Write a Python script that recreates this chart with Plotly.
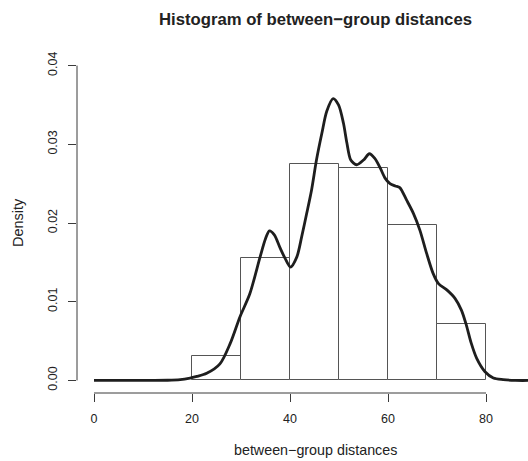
import plotly.graph_objects as go

# Histogram (density scale), bins of width 10
bin_left = [20, 30, 40, 50, 60, 70]
bin_width = 10
bin_density = [0.0031, 0.0155, 0.0275, 0.0270, 0.0198, 0.0072]

# Kernel density estimate
kde_x = [0, 5, 10, 15, 17.6, 19.6, 21, 23.0, 25.7, 27.8, 29.8, 31.8, 33.9, 35.0, 35.8,
         36.8, 38.0, 39.0, 40.1, 41.4, 42.4, 43.4, 44.4, 45.4, 46.5, 47.5, 48.8, 49.9,
         50.9, 51.6, 52.4, 53.6, 55.0, 56.2, 57.3, 58.4, 59.4, 60.4, 61.5, 62.4, 63.8,
         65.2, 66.5, 67.9, 69.2, 70.3, 72.0, 73.7, 75.0, 76.0, 77.0, 78.1, 79.8, 81.5,
         83.5, 86, 90]
kde_y = [0, 0, 0, 0.00002, 0.0001, 0.0003, 0.0005, 0.0009, 0.0021, 0.0047, 0.0081, 0.0110,
         0.0157, 0.0180, 0.0190, 0.0185, 0.0168, 0.0155, 0.0144, 0.0157, 0.0183, 0.0212,
         0.0242, 0.0280, 0.0314, 0.0342, 0.0358, 0.0350, 0.0327, 0.0302, 0.0280, 0.0274,
         0.0280, 0.0288, 0.0282, 0.0270, 0.0257, 0.0250, 0.0247, 0.0245, 0.0229, 0.0212,
         0.0191, 0.0161, 0.0136, 0.0123, 0.0115, 0.0104, 0.0089, 0.0070, 0.0047, 0.0028,
         0.0011, 0.0003, 0.0001, 0, 0]

x_ticks = [0, 20, 40, 60, 80]
y_ticks = [0.00, 0.01, 0.02, 0.03, 0.04]

title_text = "Histogram of between\u2212group distances"
x_label = "between\u2212group distances"
y_label = "Density"

FONT = "Liberation Sans, Arial, sans-serif"
AXIS_COLOR = "#3a3a3a"
TEXT_COLOR = "#222222"

fig = go.Figure()
fig.add_trace(go.Bar(
    x=[b + bin_width / 2 for b in bin_left],
    y=bin_density,
    width=bin_width,
    marker=dict(color="white", line=dict(color="#555555", width=1)),
    hoverinfo="skip",
))
fig.add_trace(go.Scatter(
    x=kde_x, y=kde_y, mode="lines",
    line=dict(color="#1e1e1e", width=2.8, shape="spline", smoothing=0.8),
    hoverinfo="skip",
))

# R-style axis lines spanning only the tick range
fig.add_shape(type="line", xref="x", yref="paper", x0=x_ticks[0], x1=x_ticks[-1], y0=0, y1=0,
              line=dict(color=AXIS_COLOR, width=1))
fig.add_shape(type="line", xref="paper", yref="y", x0=0, x1=0, y0=y_ticks[0], y1=y_ticks[-1],
              line=dict(color=AXIS_COLOR, width=1))

fig.update_layout(
    width=528, height=461,
    margin=dict(l=77, r=0, t=53, b=68),
    paper_bgcolor="white", plot_bgcolor="white",
    showlegend=False,
    bargap=0,
    font=dict(family=FONT, color=TEXT_COLOR),
    xaxis=dict(range=[-3.47, 88.57], tickvals=x_ticks, ticktext=[str(v) for v in x_ticks],
               ticks="outside", ticklen=8, tickcolor=AXIS_COLOR, tickwidth=1,
               showline=False, showgrid=False, zeroline=False,
               tickfont=dict(size=12.5, color=TEXT_COLOR), ticklabelstandoff=6),
    yaxis=dict(range=[-0.0016, 0.0416], tickvals=y_ticks, ticktext=["%.2f" % v for v in y_ticks],
               ticks="outside", ticklen=8, tickcolor=AXIS_COLOR, tickwidth=1,
               showline=False, showgrid=False, zeroline=False, tickangle=-90,
               tickfont=dict(size=12.5, color=TEXT_COLOR), ticklabelstandoff=6),
    annotations=[
        dict(text="<b>" + title_text + "</b>", x=315, y=461 - 20, xref="paper", yref="paper",
             showarrow=False, font=dict(size=16.7, color=TEXT_COLOR)),
        dict(text=x_label, x=315, y=461 - 450, xref="paper", yref="paper",
             showarrow=False, font=dict(size=14.3, color=TEXT_COLOR)),
        dict(text=y_label, x=18, y=461 - 223, xref="paper", yref="paper", textangle=-90,
             showarrow=False, font=dict(size=14.5, color=TEXT_COLOR)),
    ],
)

# convert pixel annotation positions to paper coordinates
pw = 528 - 77 - 0
ph = 461 - 53 - 68
new_ann = []
for a in fig.layout.annotations:
    a.x = (a.x - 77) / pw
    a.y = (a.y - 68) / ph
    a.xanchor = "center"
    a.yanchor = "middle"
    new_ann.append(a)
fig.layout.annotations = new_ann

fig.write_html("out.html")
